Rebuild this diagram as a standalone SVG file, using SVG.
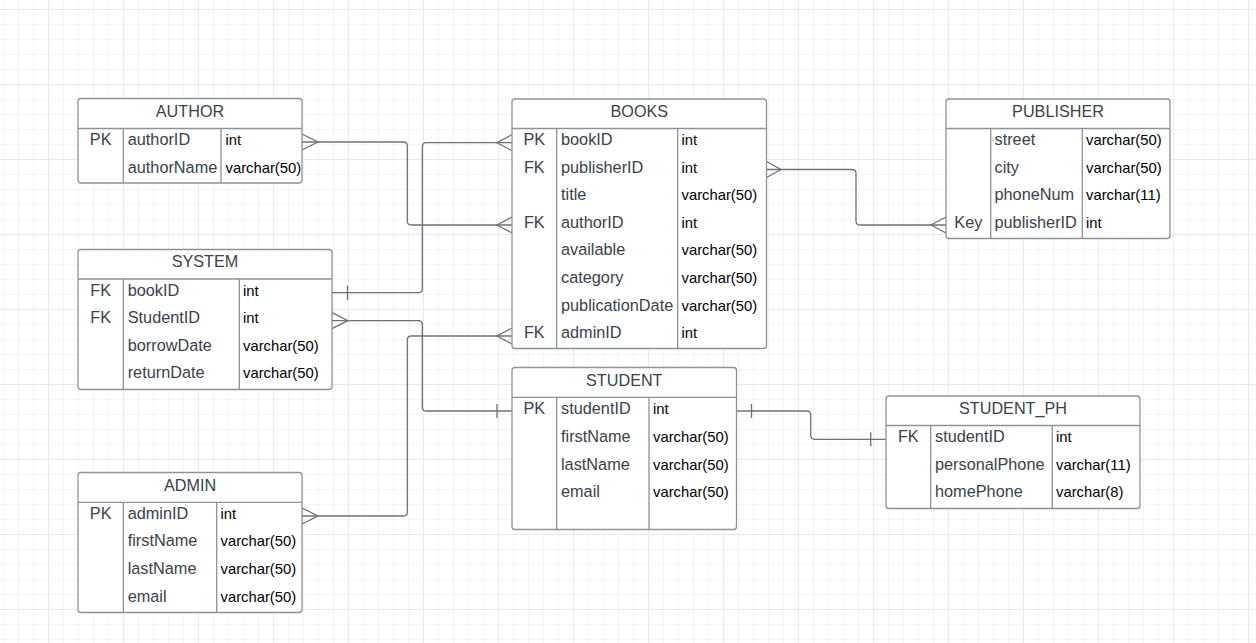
<svg xmlns="http://www.w3.org/2000/svg" width="1256" height="643" viewBox="0 0 1256 643">
  <style>
    .box { fill: #ffffff; stroke: #8d9299; stroke-width: 1.3; }
    .div { stroke: #8d9299; stroke-width: 1.3; fill: none; }
    .hdr { font-family: "Liberation Sans", Arial, sans-serif; font-size: 16.2px; fill: #3b414a; text-anchor: middle; }
    .key { font-family: "Liberation Sans", Arial, sans-serif; font-size: 16.3px; fill: #3b414a; text-anchor: middle; }
    .attr { font-family: "Liberation Sans", Arial, sans-serif; font-size: 16.3px; fill: #3b414a; }
    .type { font-family: "Liberation Sans", Arial, sans-serif; font-size: 14.8px; fill: #000000; }
    .hdr, .key, .attr, .type { transform: translateY(-0.8px); }
    .link { stroke: #6c727b; stroke-width: 1.3; fill: none; }
  </style>
  <defs>
    <pattern id="gridMinor" patternUnits="userSpaceOnUse" x="3" y="9" width="15" height="15">
      <rect x="0" y="0" width="1" height="15" fill="#f4f4f4"/>
      <rect x="0" y="0" width="15" height="1" fill="#f4f4f4"/>
    </pattern>
    <pattern id="gridMajor" patternUnits="userSpaceOnUse" x="48" y="9" width="75" height="75">
      <rect x="0" y="0" width="1" height="75" fill="#e9e9e9"/>
      <rect x="0" y="0" width="75" height="1" fill="#e9e9e9"/>
    </pattern>
  </defs>

  <!-- canvas grid -->
  <rect width="1256" height="643" fill="#ffffff"/>
  <rect width="1256" height="643" fill="url(#gridMinor)"/>
  <rect width="1256" height="643" fill="url(#gridMajor)"/>

  <!-- relationship lines -->
  <g id="connectors">
    <!-- AUTHOR.authorID >-< BOOKS.authorID -->
    <path class="link" d="M302 142 H403.3 Q407.3 142 407.3 146 V221 Q407.3 225 411.3 225 H512"/>
    <path class="link" d="M302 134 L318 142 L302 150"/>
    <path class="link" d="M512 217 L497 225 L512 233"/>

    <!-- SYSTEM.bookID |-< BOOKS.bookID -->
    <path class="link" d="M332 292.7 H418.3 Q422.3 292.7 422.3 288.7 V146.7 Q422.3 142.7 426.3 142.7 H512"/>
    <path class="link" d="M347.5 285.5 V300"/>
    <path class="link" d="M512 134.7 L497 142.7 L512 150.7"/>

    <!-- SYSTEM.StudentID >-| STUDENT.studentID -->
    <path class="link" d="M332 320.7 H418.3 Q422.3 320.7 422.3 324.7 V407 Q422.3 411 426.3 411 H512"/>
    <path class="link" d="M332 312.7 L348 320.7 L332 328.7"/>
    <path class="link" d="M497 404 V418"/>

    <!-- ADMIN.adminID >-< BOOKS.adminID -->
    <path class="link" d="M302 516 H403.3 Q407.3 516 407.3 512 V340 Q407.3 336 411.3 336 H512"/>
    <path class="link" d="M302 508 L318 516 L302 524"/>
    <path class="link" d="M512 328 L497 336 L512 344"/>

    <!-- BOOKS.publisherID >-< PUBLISHER.publisherID -->
    <path class="link" d="M766.5 169.5 H852 Q856 169.5 856 173.5 V221 Q856 225 860 225 H946"/>
    <path class="link" d="M766.5 161.5 L781 169.5 L766.5 177.5"/>
    <path class="link" d="M946 217 L931 225 L946 233"/>

    <!-- STUDENT.studentID |-| STUDENT_PH.studentID -->
    <path class="link" d="M736.5 411 H806.7 Q810.7 411 810.7 415 V435.3 Q810.7 439.3 814.7 439.3 H886"/>
    <path class="link" d="M751.5 404 V418"/>
    <path class="link" d="M870.7 432.3 V446.3"/>
  </g>

  <!-- AUTHOR -->
  <g id="author">
    <rect class="box" x="78" y="98.5" width="224" height="84.5" rx="3"/>
    <path class="div" d="M78 128.5 H302 M123.3 128.5 V183 M221 128.5 V183"/>
    <text class="hdr" x="190" y="117.5">AUTHOR</text>
    <text class="key" x="100.7" y="146">PK</text>
    <text class="attr" x="127.7" y="146">authorID</text>
    <text class="type" x="225.5" y="146">int</text>
    <text class="attr" x="127.7" y="173.5">authorName</text>
    <text class="type" x="225.5" y="173.5">varchar(50)</text>
  </g>

  <!-- BOOKS -->
  <g id="books">
    <rect class="box" x="512" y="99" width="254.5" height="249.5" rx="3"/>
    <path class="div" d="M512 128.5 H766.5 M556.7 128.5 V348.5 M677.7 128.5 V348.5"/>
    <text class="hdr" x="639.3" y="118">BOOKS</text>
    <text class="key" x="534.3" y="146">PK</text>
    <text class="attr" x="561" y="146">bookID</text>
    <text class="type" x="681.5" y="146">int</text>
    <text class="key" x="534.3" y="173.5">FK</text>
    <text class="attr" x="561" y="173.5">publisherID</text>
    <text class="type" x="681.5" y="173.5">int</text>
    <text class="attr" x="561" y="201">title</text>
    <text class="type" x="681.5" y="201">varchar(50)</text>
    <text class="key" x="534.3" y="228.5">FK</text>
    <text class="attr" x="561" y="228.5">authorID</text>
    <text class="type" x="681.5" y="228.5">int</text>
    <text class="attr" x="561" y="256">available</text>
    <text class="type" x="681.5" y="256">varchar(50)</text>
    <text class="attr" x="561" y="284">category</text>
    <text class="type" x="681.5" y="284">varchar(50)</text>
    <text class="attr" x="561" y="311.5">publicationDate</text>
    <text class="type" x="681.5" y="311.5">varchar(50)</text>
    <text class="key" x="534.3" y="339">FK</text>
    <text class="attr" x="561" y="339">adminID</text>
    <text class="type" x="681.5" y="339">int</text>
  </g>

  <!-- PUBLISHER -->
  <g id="publisher">
    <rect class="box" x="946" y="99" width="224" height="139.5" rx="3"/>
    <path class="div" d="M946 128.5 H1170 M990.7 128.5 V238.5 M1082.3 128.5 V238.5"/>
    <text class="hdr" x="1058" y="118">PUBLISHER</text>
    <text class="attr" x="994.5" y="146">street</text>
    <text class="type" x="1086" y="146">varchar(50)</text>
    <text class="attr" x="994.5" y="173.5">city</text>
    <text class="type" x="1086" y="173.5">varchar(50)</text>
    <text class="attr" x="994.5" y="201">phoneNum</text>
    <text class="type" x="1086" y="201">varchar(11)</text>
    <text class="key" x="968.3" y="228.5">Key</text>
    <text class="attr" x="994.5" y="228.5">publisherID</text>
    <text class="type" x="1086" y="228.5">int</text>
  </g>

  <!-- SYSTEM -->
  <g id="system">
    <rect class="box" x="78" y="249.5" width="254" height="140" rx="3"/>
    <path class="div" d="M78 279 H332 M123.3 279 V389.5 M239.3 279 V389.5"/>
    <text class="hdr" x="205" y="268">SYSTEM</text>
    <text class="key" x="100.7" y="296.5">FK</text>
    <text class="attr" x="127.7" y="296.5">bookID</text>
    <text class="type" x="243" y="296.5">int</text>
    <text class="key" x="100.7" y="324">FK</text>
    <text class="attr" x="127.7" y="324">StudentID</text>
    <text class="type" x="243" y="324">int</text>
    <text class="attr" x="127.7" y="351.7">borrowDate</text>
    <text class="type" x="243" y="351.7">varchar(50)</text>
    <text class="attr" x="127.7" y="379.3">returnDate</text>
    <text class="type" x="243" y="379.3">varchar(50)</text>
  </g>

  <!-- ADMIN -->
  <g id="admin">
    <rect class="box" x="78" y="472.5" width="224" height="140" rx="3"/>
    <path class="div" d="M78 502.3 H302 M123.3 502.3 V612.5 M216.7 502.3 V612.5"/>
    <text class="hdr" x="190" y="491.5">ADMIN</text>
    <text class="key" x="100.7" y="519.5">PK</text>
    <text class="attr" x="127.7" y="519.5">adminID</text>
    <text class="type" x="220.5" y="519.5">int</text>
    <text class="attr" x="127.7" y="547">firstName</text>
    <text class="type" x="220.5" y="547">varchar(50)</text>
    <text class="attr" x="127.7" y="575">lastName</text>
    <text class="type" x="220.5" y="575">varchar(50)</text>
    <text class="attr" x="127.7" y="602.5">email</text>
    <text class="type" x="220.5" y="602.5">varchar(50)</text>
  </g>

  <!-- STUDENT -->
  <g id="student">
    <rect class="box" x="512" y="367.5" width="224.5" height="162" rx="3"/>
    <path class="div" d="M512 397.3 H736.5 M556.7 397.3 V529.5 M649 397.3 V529.5"/>
    <text class="hdr" x="624.3" y="386.5">STUDENT</text>
    <text class="key" x="534.3" y="415">PK</text>
    <text class="attr" x="561" y="415">studentID</text>
    <text class="type" x="653" y="415">int</text>
    <text class="attr" x="561" y="442.7">firstName</text>
    <text class="type" x="653" y="442.7">varchar(50)</text>
    <text class="attr" x="561" y="470.5">lastName</text>
    <text class="type" x="653" y="470.5">varchar(50)</text>
    <text class="attr" x="561" y="498.2">email</text>
    <text class="type" x="653" y="498.2">varchar(50)</text>
  </g>

  <!-- STUDENT_PH -->
  <g id="student_ph">
    <rect class="box" x="886" y="396" width="254" height="112.5" rx="3"/>
    <path class="div" d="M886 425.5 H1140 M930.7 425.5 V508.5 M1052.3 425.5 V508.5"/>
    <text class="hdr" x="1013" y="415">STUDENT_PH</text>
    <text class="key" x="908.3" y="443">FK</text>
    <text class="attr" x="935" y="443">studentID</text>
    <text class="type" x="1056" y="443">int</text>
    <text class="attr" x="935" y="470.5">personalPhone</text>
    <text class="type" x="1056" y="470.5">varchar(11)</text>
    <text class="attr" x="935" y="498.3">homePhone</text>
    <text class="type" x="1056" y="498.3">varchar(8)</text>
  </g>
</svg>
